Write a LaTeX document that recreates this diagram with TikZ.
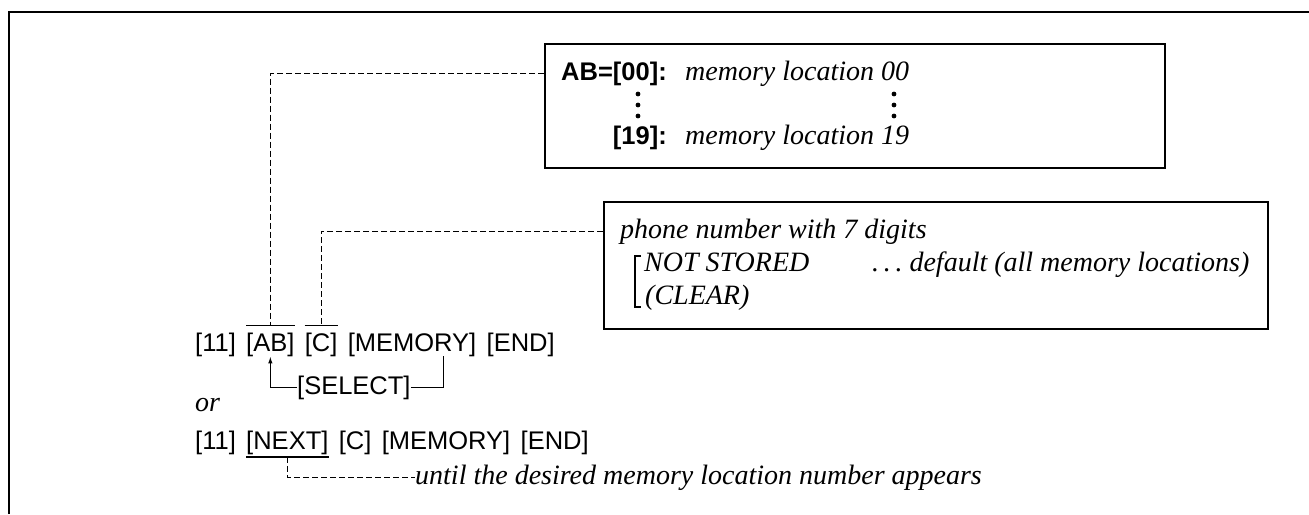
\documentclass[tikz,border=0pt]{standalone}
\usepackage{fontspec}
\setmainfont{Liberation Serif}
\setsansfont{Liberation Sans}
\usepackage{tikz}
\usetikzlibrary{positioning, arrows.meta, calc}

\begin{document}
\begin{tikzpicture}[
  x=1pt, y=-1pt,
  box/.style={rectangle, draw, line width=1.8pt, anchor=north west, inner sep=0pt},
  key/.style={inner sep=0pt, font=\sffamily\fontsize{25.5}{30}\selectfont},
  keyb/.style={inner sep=0pt, font=\sffamily\bfseries\fontsize{25.5}{30}\selectfont},
  note/.style={inner sep=0pt, font=\itshape\fontsize{28}{32}\selectfont},
  lead/.style={line width=1.1pt, dash pattern=on 6pt off 3pt},
  bar/.style={line width=1.1pt},
  node distance=10pt
]
\useasboundingbox (0,0) rectangle (1309,514);
\draw[line width=2pt] (9,514) -- (9,12) -- (1309,12);

% memory location box
\node[box, minimum width=620, minimum height=124] (mem) at (544,43) {};
\node[keyb, anchor=base east] (ab00) at (667,80) {AB=[00]:};
\node[note, anchor=base west] (loc00) at (685,80) {memory location 00};
\node[keyb, anchor=base east] (k19) at (667,144) {[19]:};
\node[note, anchor=base west] (loc19) at (685,144) {memory location 19};
\foreach \y in {94,105,116} {
  \fill (638,\y) circle (2.4pt);
  \fill (894,\y) circle (2.4pt);
}

% phone number box
\node[box, minimum width=664, minimum height=127] (num) at (603,201) {};
\node[note, anchor=base west] (phone) at (620,238) {phone number with 7 digits};
\node[note, anchor=base west] (notst) at (644,271) {NOT STORED};
\node[note, anchor=base west] (dflt) at (872,271) {.\,.\,.\ default (all memory locations)};
\node[note, anchor=base west] (clr) at (645,304) {(CLEAR)};
\draw[line width=1.6pt] (641,256) -| (635,307) -- (641,307);

% first key sequence
\node[key, anchor=base west] (k11) at (195,351) {[11]};
\node[key, right=of k11] (kab) {[AB]};
\node[key, right=of kab] (kc) {[C]};
\node[key, right=of kc] (kmem) {[MEMORY]};
\node[key, right=of kmem] (kend) {[END]};
\draw[bar] ([yshift=7pt]kab.north west) -- ([yshift=7pt]kab.north east);
\draw[bar] ([yshift=7pt]kc.north west) -- ([yshift=7pt]kc.north east);

\node[key, anchor=base west] (sel) at (297,394) {[SELECT]};
\coordinate (rpt) at ($(kmem.south west)!0.742!(kmem.south east)$);
\draw[bar, -{Latex[length=7pt,width=4.5pt]}] (sel.west) -| (kab.south);
\draw[bar] (sel.east) -| (rpt);

\draw[lead] (ab00.west -| mem.west) -| ([yshift=7pt]kab.north);
\draw[lead] (phone.west -| num.west) -| ([yshift=7pt]kc.north);

\node[note, anchor=base west] (or) at (195,411) {or};

% second key sequence
\node[key, anchor=base west] (n11) at (195,449) {[11]};
\node[key, right=of n11] (knext) {[NEXT]};
\node[key, right=of knext] (nc) {[C]};
\node[key, right=of nc] (nmem) {[MEMORY]};
\node[key, right=of nmem] (nend) {[END]};
\draw[bar] ([yshift=-2.5pt]knext.south west) -- ([yshift=-2.5pt]knext.south east);

\node[note, anchor=base west] (until) at (415,484) {until the desired memory location number appears};
\draw[lead] ([yshift=-2.5pt]knext.south) |- (until.west);
\end{tikzpicture}
\end{document}
